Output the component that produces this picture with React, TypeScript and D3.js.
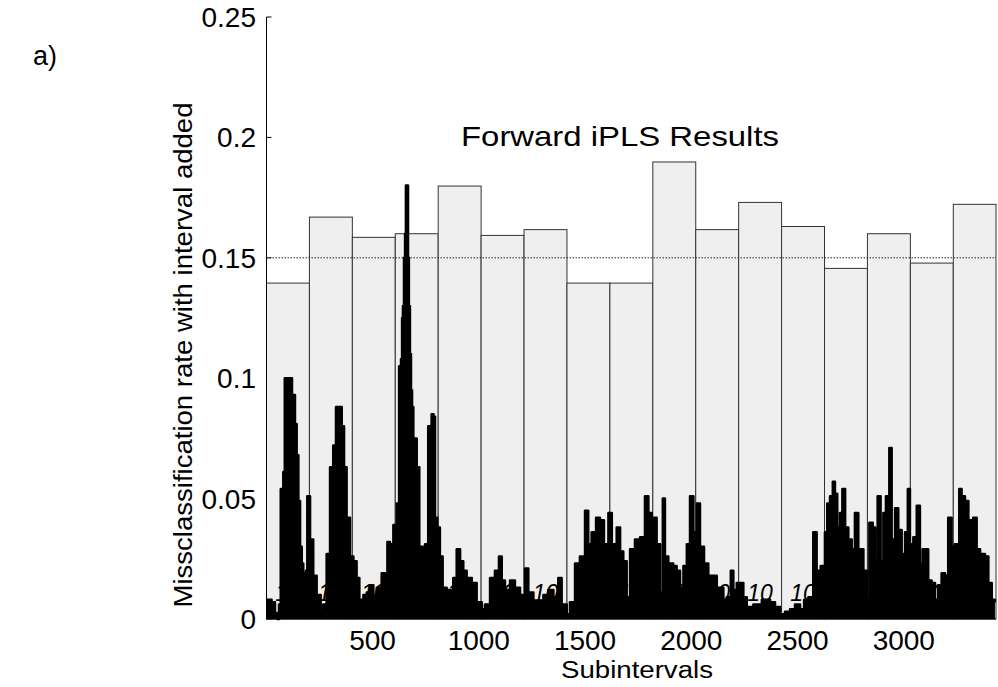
import React from "react";
import * as d3 from "d3";

// ---------- data ----------
const yTicks = [0, 0.05, 0.1, 0.15, 0.2, 0.25];
const yTickLabels = ["0", "0.05", "0.1", "0.15", "0.2", "0.25"];
const xTicks = [500, 1000, 1500, 2000, 2500, 3000];
const xTickLabels = ["500", "1000", "1500", "2000", "2500", "3000"];
const xDomain = [1, 3434];
const yDomain = [0, 0.25];

const intervalStart = [1, 203, 405, 607, 809, 1011, 1213, 1415, 1617, 1819, 2021, 2223, 2425, 2627, 2829, 3031, 3233];
const intervalEnd = [202, 404, 606, 808, 1010, 1212, 1414, 1616, 1818, 2020, 2222, 2424, 2626, 2828, 3030, 3232, 3434];
const intervalRmse = [0.1395, 0.1669, 0.1585, 0.16, 0.1798, 0.1593, 0.1617, 0.1395, 0.1395, 0.1898, 0.1617, 0.173, 0.163, 0.1456, 0.16, 0.1478, 0.1722];
const intervalComponents = ["10", "10", "10", "10", "10", "10", "10", "10", "10", "10", "10", "10", "10", "10", "10", "10", "10"];
const globalModel = 0.15;

const specX = [2, 25, 41, 52, 60, 68, 80, 87, 112, 121, 135, 143, 151, 159, 167, 174, 187, 193, 206, 221, 237, 256, 268, 284, 300, 315, 328, 344, 355, 366, 378, 394, 410, 425, 438, 449, 457, 473, 488, 504, 520, 543, 559, 570, 582, 598, 614, 625, 634, 639, 643, 648, 653, 657, 662, 667, 671, 676, 681, 686, 692, 708, 720, 736, 747, 762, 778, 787, 794, 805, 817, 830, 849, 880, 896, 912, 927, 943, 967, 990, 1014, 1029, 1053, 1076, 1095, 1108, 1123, 1147, 1170, 1194, 1218, 1233, 1257, 1288, 1304, 1327, 1351, 1374, 1390, 1414, 1429, 1453, 1476, 1500, 1515, 1531, 1552, 1570, 1589, 1610, 1626, 1649, 1665, 1680, 1696, 1712, 1735, 1759, 1782, 1798, 1814, 1825, 1837, 1853, 1866, 1876, 1892, 1915, 1931, 1947, 1963, 1979, 1994, 2010, 2026, 2041, 2060, 2080, 2101, 2120, 2151, 2167, 2186, 2198, 2214, 2229, 2245, 2261, 2292, 2332, 2371, 2394, 2418, 2441, 2465, 2488, 2512, 2531, 2551, 2574, 2590, 2609, 2629, 2640, 2653, 2666, 2676, 2687, 2700, 2711, 2724, 2739, 2755, 2770, 2786, 2810, 2826, 2838, 2854, 2865, 2877, 2891, 2904, 2916, 2932, 2943, 2959, 2974, 2990, 3006, 3019, 3029, 3045, 3061, 3076, 3089, 3103, 3115, 3131, 3147, 3162, 3178, 3194, 3209, 3225, 3240, 3261, 3272, 3288, 3304, 3327, 3343, 3359, 3382, 3398, 3414, 3429];
const specY = [0.008, 0.007, 0.0025, 0.0, 0.006, 0.054, 0.061, 0.1, 0.1, 0.093, 0.081, 0.068, 0.049, 0.03, 0.023, 0.019, 0.02, 0.051, 0.033, 0.018, 0.01, 0.003, 0.006, 0.027, 0.063, 0.072, 0.088, 0.088, 0.08, 0.063, 0.042, 0.026, 0.024, 0.017, 0.008, 0.008, 0.01, 0.011, 0.014, 0.01, 0.013, 0.019, 0.018, 0.032, 0.031, 0.039, 0.048, 0.105, 0.108, 0.125, 0.13, 0.15, 0.16, 0.18, 0.18, 0.15, 0.13, 0.11, 0.095, 0.088, 0.075, 0.063, 0.03, 0.013, 0.031, 0.08, 0.085, 0.084, 0.042, 0.038, 0.026, 0.013, 0.012, 0.017, 0.029, 0.024, 0.02, 0.017, 0.015, 0.007, 0.004, 0.006, 0.017, 0.02, 0.026, 0.016, 0.012, 0.016, 0.013, 0.01, 0.021, 0.011, 0.007, 0.007, 0.01, 0.012, 0.009, 0.017, 0.006, 0.002, 0.007, 0.023, 0.026, 0.045, 0.031, 0.036, 0.042, 0.041, 0.031, 0.044, 0.031, 0.038, 0.028, 0.024, 0.009, 0.029, 0.033, 0.034, 0.051, 0.044, 0.036, 0.042, 0.031, 0.011, 0.05, 0.026, 0.023, 0.022, 0.02, 0.013, 0.022, 0.031, 0.051, 0.036, 0.048, 0.03, 0.023, 0.018, 0.018, 0.013, 0.008, 0.009, 0.02, 0.012, 0.015, 0.015, 0.009, 0.005, 0.006, 0.008, 0.007, 0.005, 0.002, 0.003, 0.004, 0.006, 0.004, 0.008, 0.009, 0.036, 0.02, 0.022, 0.036, 0.048, 0.051, 0.057, 0.052, 0.038, 0.044, 0.054, 0.038, 0.033, 0.029, 0.044, 0.029, 0.02, 0.008, 0.04, 0.038, 0.024, 0.051, 0.024, 0.044, 0.051, 0.071, 0.033, 0.046, 0.037, 0.027, 0.036, 0.054, 0.031, 0.034, 0.047, 0.023, 0.029, 0.029, 0.016, 0.015, 0.008, 0.014, 0.019, 0.018, 0.042, 0.03, 0.031, 0.054, 0.051, 0.049, 0.041, 0.042, 0.029, 0.027, 0.026, 0.015, 0.008, 0.007];

const titleText = "Forward iPLS Results";
const xLabelText = "Subintervals";
const yLabelText = "Missclassification rate with interval added";
const panelLabel = "a)";

// ---------- layout ----------
const W = 998;
const H = 687;
const left = 266.5;
const right = 996;
const top = 17;
const bottom = 619;
const FONT = "Liberation Sans, Arial, sans-serif";

export default function App() {
  const xs = d3.scaleLinear().domain(xDomain).range([left, right]);
  const ys = d3.scaleLinear().domain(yDomain).range([bottom, top]);

  const spec = specX.map((x, i) => ({ x, y: specY[i] }));
  const area = d3
    .area<{ x: number; y: number }>()
    .x((d) => xs(d.x))
    .y0(ys(0))
    .y1((d) => ys(d.y))
    .curve(d3.curveStepAfter);
  const line = d3
    .line<{ x: number; y: number }>()
    .x((d) => xs(d.x))
    .y((d) => ys(d.y))
    .curve(d3.curveStepAfter);

  return (
    <div style={{ position: "absolute", left: 0, top: 0 }}>
      <svg width={W} height={H} style={{ display: "block", background: "#fff" }} fontFamily={FONT}>
        {/* y ticks (inward, beneath bars) */}
        {yTicks.map((t, i) => (
          <line key={"yt" + i} x1={left} x2={left + 5} y1={ys(t)} y2={ys(t)} stroke="#000" strokeWidth={1} />
        ))}

        {/* interval bars */}
        {intervalStart.map((s, i) => {
          const x0 = xs(s);
          const x1 = xs(Math.min(intervalEnd[i] + 1, xDomain[1]));
          return (
            <rect
              key={"b" + i}
              x={x0}
              y={ys(intervalRmse[i])}
              width={x1 - x0}
              height={ys(0) - ys(intervalRmse[i])}
              fill="#efefef"
              stroke="#333"
              strokeWidth={1}
            />
          );
        })}

        {/* global model line */}
        <line
          x1={left}
          x2={right}
          y1={ys(globalModel)}
          y2={ys(globalModel)}
          stroke="#222"
          strokeWidth={1}
          strokeDasharray="1.5,1.5"
        />

        {/* component numbers */}
        {intervalStart.map((s, i) => (
          <text
            key={"c" + i}
            x={(xs(s) + xs(Math.min(intervalEnd[i] + 1, xDomain[1]))) / 2}
            y={601}
            fontSize={23}
            fontStyle="italic"
            textAnchor="middle"
            fill="#000"
          >
            {intervalComponents[i]}
          </text>
        ))}

        {/* spectrum */}
        <path d={area(spec) || ""} fill="#000" />
        <path d={line(spec) || ""} fill="none" stroke="#000" strokeWidth={2.5} strokeLinejoin="round" />

        {/* axes lines */}
        <line x1={left} x2={left} y1={top} y2={bottom} stroke="#000" strokeWidth={1} />
        <line x1={left} x2={right} y1={bottom} y2={bottom} stroke="#000" strokeWidth={1} />

        {/* y tick labels */}
        {yTicks.map((t, i) => (
          <text key={"yl" + i} x={256} y={ys(t)} dy="0.36em" fontSize={28} textAnchor="end" fill="#000">
            {yTickLabels[i]}
          </text>
        ))}

        {/* x tick labels */}
        {xTicks.map((t, i) => (
          <text key={"xl" + i} x={xs(t)} y={650} fontSize={28} textAnchor="middle" fill="#000">
            {xTickLabels[i]}
          </text>
        ))}

        {/* labels */}
        <text x={620} y={146} fontSize={28} textAnchor="middle" textLength={318} lengthAdjust="spacingAndGlyphs" fill="#000">
          {titleText}
        </text>
        <text x={637} y={678} fontSize={23} textAnchor="middle" textLength={152} lengthAdjust="spacingAndGlyphs" fill="#000">
          {xLabelText}
        </text>
        <text
          transform={`translate(192, 355) rotate(-90)`}
          fontSize={25}
          textAnchor="middle"
          textLength={505}
          lengthAdjust="spacingAndGlyphs"
          fill="#000"
        >
          {yLabelText}
        </text>
        <text x={33} y={65} fontSize={27} fill="#000">
          {panelLabel}
        </text>
      </svg>
    </div>
  );
}
